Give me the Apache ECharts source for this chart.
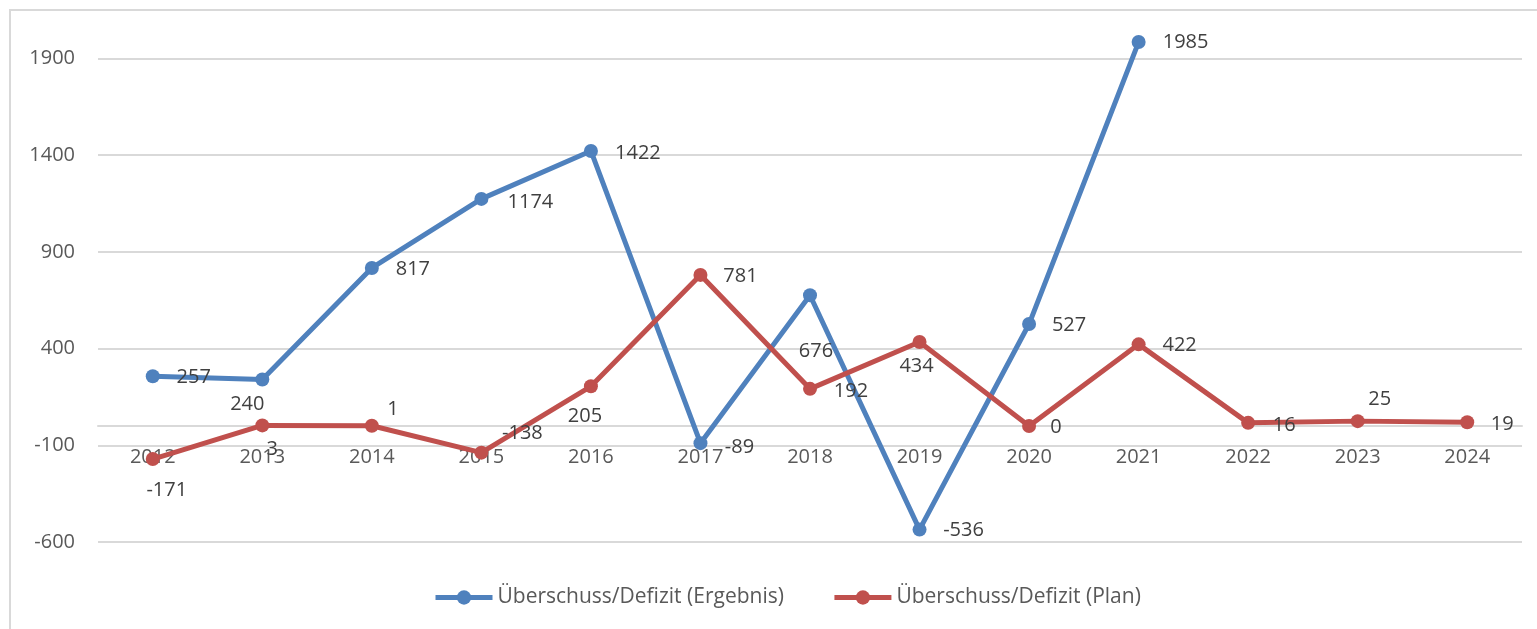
<!DOCTYPE html>
<html>
<head>
<meta charset="utf-8">
<script src="https://cdn.jsdelivr.net/npm/echarts@6/dist/echarts.min.js"></script>
<style>
html, body { margin: 0; padding: 0; background: #fff; }
#chart { width: 1537px; height: 629px; }
</style>
</head>
<body>
<div id="chart"></div>
<script>
var years = ['2012', '2013', '2014', '2015', '2016', '2017', '2018', '2019', '2020', '2021', '2022', '2023', '2024'];
var ergebnis = [257, 240, 817, 1174, 1422, -89, 676, -536, 527, 1985, null, null, null];
var plan = [-171, 3, 1, -138, 205, 781, 192, 434, 0, 422, 16, 25, 19];
var yTicks = [-600, -100, 400, 900, 1400, 1900];

// where each data label sits relative to its point (px)
var ergebnisLabelShift = [[41, 1], [-15, 25], [41, 1], [49, 3], [47, 2], [39, 4], [6, 56], [44, 1], [40, 1], [47, 0]];
var planLabelShift = [[14, 31], [10, 24], [21, -16], [41, -19], [-6, 30], [40, 1], [41, 2], [-3, 24], [27, 1], [41, 1], [36, 2], [22, -22], [35, 2]];

var font = '"Open Sans", "Liberation Sans", sans-serif';
var H = 629, gridTop = 58.5, gridBottom = 87;
var yMin = yTicks[0], yMax = yTicks[yTicks.length - 1];
// the category axis sits on the zero line, like in Excel
var zeroOffset = -(H - gridTop - gridBottom) * (0 - yMin) / (yMax - yMin);

function withLabels(values, shifts) {
    return values.map(function (v, i) {
        if (v == null) return null;
        return {
            value: v,
            label: { offset: shifts[i] }
        };
    });
}

var myChart = echarts.init(document.getElementById('chart'));

var option = {
    animation: false,
    color: ['#4F81BD', '#C0504D'],
    graphic: [{
        type: 'rect',
        shape: { x: 10, y: 10, width: 1600, height: 700 },
        style: { fill: 'none', stroke: '#d9d9d9', lineWidth: 2 },
        silent: true
    }],
    grid: {
        left: 98,
        right: 15,
        top: gridTop,
        bottom: gridBottom
    },
    legend: {
        left: 428,
        top: 582,
        itemWidth: 57,
        itemHeight: 18,
        itemGap: 48,
        lineStyle: { width: 5 },
        textStyle: { fontFamily: font, fontSize: 21, color: '#595959' },
        data: ['Überschuss/Defizit (Ergebnis)', 'Überschuss/Defizit (Plan)']
    },
    xAxis: {
        type: 'category',
        data: years,
        offset: zeroOffset,
        axisLine: { show: true, onZero: false, lineStyle: { color: '#d9d9d9', width: 2 } },
        axisTick: { show: false },
        axisLabel: { fontFamily: font, fontSize: 20, color: '#595959', margin: 21 }
    },
    yAxis: {
        type: 'value',
        min: yMin,
        max: yMax,
        interval: yTicks[1] - yTicks[0],
        axisLine: { show: false },
        axisTick: { show: false },
        splitLine: { lineStyle: { color: '#d9d9d9', width: 2 } },
        axisLabel: {
            fontFamily: font, fontSize: 20, color: '#595959', margin: 23,
            formatter: function (v) { return String(v); }
        }
    },
    series: [
        {
            name: 'Überschuss/Defizit (Ergebnis)',
            type: 'line',
            clip: false,
            symbol: 'circle',
            symbolSize: 14,
            lineStyle: { width: 5 },
            label: {
                show: true,
                position: 'inside',
                fontFamily: font,
                fontSize: 20,
                color: '#404040'
            },
            data: withLabels(ergebnis, ergebnisLabelShift)
        },
        {
            name: 'Überschuss/Defizit (Plan)',
            type: 'line',
            clip: false,
            symbol: 'circle',
            symbolSize: 14,
            lineStyle: { width: 5 },
            label: {
                show: true,
                position: 'inside',
                fontFamily: font,
                fontSize: 20,
                color: '#404040'
            },
            data: withLabels(plan, planLabelShift)
        }
    ]
};

myChart.setOption(option);
</script>
</body>
</html>
